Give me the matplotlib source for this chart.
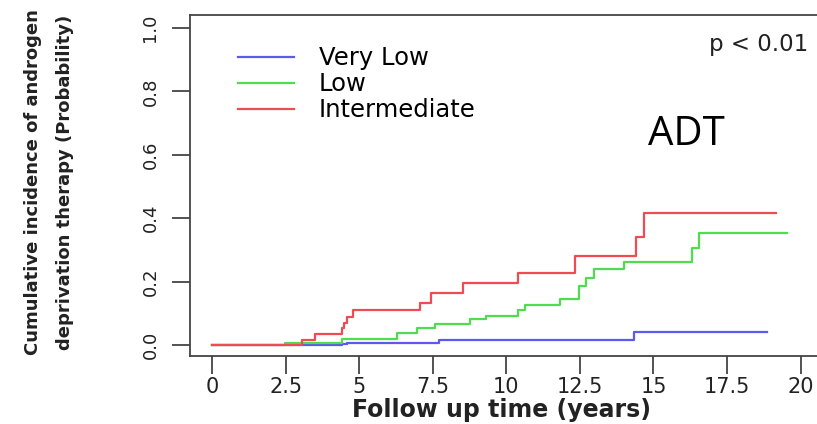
import matplotlib
matplotlib.use("Agg")
import matplotlib.pyplot as plt

plt.rcParams['font.family'] = ['DejaVu Sans']

# cumulative incidence step points (years, probability)
vlow_t = [0, 4.41, 4.58, 7.7, 14.35, 18.87]
vlow_p = [0, 0.003, 0.007, 0.016, 0.042, 0.042]

low_t = [0, 2.48, 4.41, 6.28, 6.96, 7.59, 8.78, 9.3, 10.39, 10.65, 11.84,
         12.48, 12.72, 12.97, 13.99, 16.31, 16.54, 19.55]
low_p = [0, 0.007, 0.018, 0.037, 0.053, 0.066, 0.081, 0.092, 0.11, 0.126, 0.144,
         0.186, 0.21, 0.239, 0.263, 0.305, 0.352, 0.352]

inter_t = [0, 3.05, 3.5, 4.41, 4.5, 4.6, 4.8, 7.07, 7.44, 8.53, 10.39,
           12.35, 14.42, 14.67, 19.18]
inter_p = [0, 0.016, 0.034, 0.053, 0.07, 0.088, 0.11, 0.131, 0.163, 0.195, 0.228,
           0.279, 0.34, 0.415, 0.415]

labels = ['Very Low', 'Low', 'Intermediate']
colors = ['#5a5af0', '#4fdc4f', '#f04a55']
xticks = [0, 2.5, 5, 7.5, 10, 12.5, 15, 17.5, 20]
xticklabels = ['0', '2.5', '5', '7.5', '10', '12.5', '15', '17.5', '20']
yticks = [0.0, 0.2, 0.4, 0.6, 0.8, 1.0]

W, H = 817, 424
fig = plt.figure(figsize=(W / 100, H / 100), dpi=100)
# axes box runs off the right edge of the figure
ax = fig.add_axes([190 / W, (H - 356) / H, (830 - 190) / W, (356 - 15) / H])

for t, p, lab, c in zip([vlow_t, low_t, inter_t], [vlow_p, low_p, inter_p], labels, colors):
    ax.step(t, p, where='post', color=c, lw=1.6, label=lab)

ax.set_xlim(-0.75, 21.0)
ax.set_ylim(-0.035, 1.041)
ax.set_xticks(xticks)
ax.set_xticklabels(xticklabels, fontsize=15, color='#222222')
ax.set_yticks(yticks)
ax.set_yticklabels(['%.1f' % v for v in yticks], fontsize=13, color='#222222',
                   rotation=90, va='center')
ax.tick_params(axis='both', length=13, width=1.3, color='#444444', direction='out')
ax.tick_params(axis='x', pad=2)
ax.tick_params(axis='y', pad=9)
for s in ['top', 'left', 'bottom']:
    ax.spines[s].set_color('#444444')
    ax.spines[s].set_linewidth(1.3)
ax.spines['right'].set_visible(False)

ax.legend(loc='upper left', bbox_to_anchor=(0.075, 0.909), frameon=False,
          fontsize=17.5, handlelength=2.3, handletextpad=1.03, labelspacing=0.09,
          borderpad=0, borderaxespad=0)

fig.text(808 / W, 1 - 45 / H, 'p < 0.01', ha='right', va='center', fontsize=16.5,
         color='#222222')
fig.text(686 / W, 1 - 135 / H, 'ADT', ha='center', va='center', fontsize=29,
         family=['Open Sans', 'DejaVu Sans'], color='black')

fig.text(49 / W, 1 - 182 / H,
         'Cumulative incidence of androgen\ndeprivation therapy (Probability)',
         rotation=90, ha='center', va='center', ma='center', fontsize=13,
         fontweight='bold', color='#222222', linespacing=1.95)
fig.text(502 / W, 1 - 410 / H, 'Follow up time (years)', ha='center', va='center',
         fontsize=17, fontweight='bold', color='#222222')

fig.savefig('out.png', dpi=100)
